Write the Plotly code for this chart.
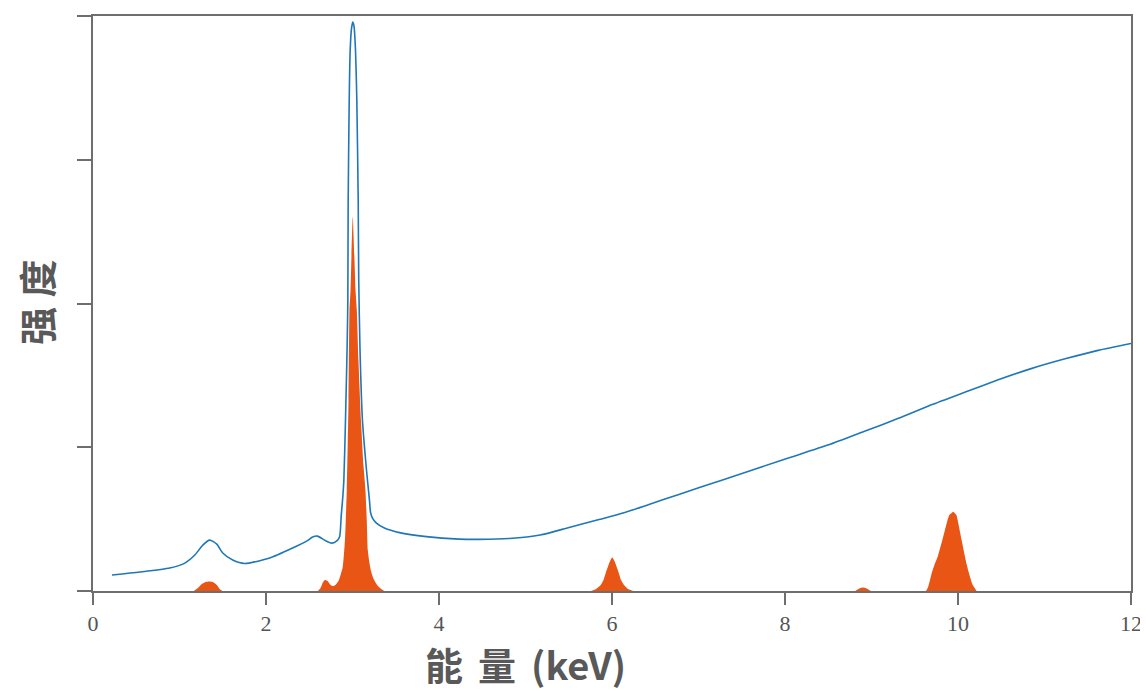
import plotly.graph_objects as go

# Blue spectrum (measured) : energy (keV) and intensity (arbitrary units)
blue_kev = [0.219, 0.542, 0.888, 1.062, 1.177, 1.269, 1.350, 1.431, 1.500, 1.615,
            1.754, 2.042, 2.308, 2.469, 2.538, 2.596, 2.677, 2.758, 2.815, 2.850,
            2.870, 2.885, 2.900, 2.919, 2.937, 2.946, 2.950, 2.962, 2.973, 2.988,
            3.003, 3.017, 3.035, 3.050, 3.066, 3.072, 3.087, 3.115, 3.162, 3.196,
            3.208, 3.231, 3.277, 3.369, 3.542, 3.854, 4.235, 4.465, 4.812, 5.169,
            5.504, 5.850, 6.127, 6.427, 6.773, 7.269, 7.996, 8.504, 8.919, 9.312,
            9.692, 10.085, 10.465, 10.846, 11.238, 11.619, 12.0]
blue_int = [0.111, 0.132, 0.160, 0.194, 0.250, 0.319, 0.354, 0.326, 0.264, 0.215,
            0.191, 0.229, 0.299, 0.347, 0.375, 0.382, 0.354, 0.333, 0.347, 0.375,
            0.528, 0.632, 0.771, 1.188, 1.674, 2.021, 2.715, 3.410, 3.757, 3.910,
            3.958, 3.931, 3.757, 3.410, 2.715, 2.160, 1.674, 1.188, 0.840, 0.632,
            0.549, 0.507, 0.472, 0.438, 0.406, 0.378, 0.361, 0.359, 0.365, 0.389,
            0.442, 0.497, 0.542, 0.602, 0.672, 0.771, 0.917, 1.017, 1.111, 1.201,
            1.295, 1.384, 1.469, 1.547, 1.615, 1.674, 1.722]

# Orange spectrum (filled peaks)
orange_kev = [1.165, 1.212, 1.258, 1.304, 1.344, 1.385, 1.431, 1.465, 1.500,
              2.596, 2.631, 2.660, 2.683, 2.712, 2.746, 2.769, 2.804, 2.838, 2.862,
              2.888, 2.913, 2.934, 2.954, 2.965, 2.977, 3.003, 3.035, 3.050, 3.069,
              3.098, 3.127, 3.150, 3.165, 3.177, 3.196, 3.216, 3.242, 3.273, 3.312, 3.369,
              5.752, 5.815, 5.870, 5.902, 5.931, 5.960, 5.983, 6.003, 6.023, 6.046,
              6.075, 6.104, 6.138, 6.185, 6.254,
              8.810, 8.838, 8.873, 8.900, 8.931, 8.965, 8.994,
              9.627, 9.658, 9.696, 9.727, 9.765, 9.819, 9.869, 9.900, 9.946, 9.981,
              10.004, 10.042, 10.081, 10.102, 10.127, 10.165, 10.215]
orange_int = [0.0, 0.021, 0.049, 0.0625, 0.066, 0.0625, 0.042, 0.014, 0.0,
              0.0, 0.021, 0.0625, 0.076, 0.069, 0.042, 0.035, 0.042, 0.069, 0.111,
              0.169, 0.354, 0.701, 1.326, 1.951, 2.090, 2.604, 2.090, 1.951, 1.604,
              1.188, 0.875, 0.701, 0.493, 0.285, 0.194, 0.134, 0.087, 0.053, 0.024, 0.0,
              0.0, 0.014, 0.042, 0.076, 0.132, 0.181, 0.215, 0.233, 0.215, 0.181,
              0.132, 0.076, 0.042, 0.014, 0.0,
              0.0, 0.010, 0.021, 0.024, 0.021, 0.010, 0.0,
              0.0, 0.035, 0.123, 0.181, 0.238, 0.354, 0.470, 0.528, 0.552, 0.528,
              0.470, 0.354, 0.238, 0.181, 0.123, 0.049, 0.0]

x_ticks = [0, 2, 4, 6, 8, 10, 12]
y_ticks = [0, 1, 2, 3, 4]
x_title = "能\u2004\u200a量\u2004\u200a(keV)"
y_title = "强\u2005度"

AXIS = "#6e6e6e"
fig = go.Figure()
fig.add_trace(go.Scatter(x=orange_kev, y=orange_int, mode="lines",
                         line=dict(color="#E85514", width=0, shape="spline", smoothing=0.5),
                         fill="tozeroy", fillcolor="#E85514", hoverinfo="skip"))
fig.add_trace(go.Scatter(x=blue_kev, y=blue_int, mode="lines",
                         line=dict(color="#1f77b8", width=1.6, shape="spline", smoothing=0.6)))

# page body has an 8px default margin: size the figure so the plot lands in place
fig.update_layout(
    width=1140, height=685,
    margin=dict(l=85, r=15, t=6, b=102),
    paper_bgcolor="white", plot_bgcolor="white",
    showlegend=False,
    xaxis=dict(range=[0, 12], tickvals=x_ticks, ticks="outside", ticklen=12,
               tickwidth=1.5, tickcolor=AXIS, showline=True, linecolor=AXIS,
               linewidth=1.6, mirror=True, showgrid=False, zeroline=False,
               tickfont=dict(family="Liberation Serif", size=22, color="#555555")),
    yaxis=dict(range=[0, 4.0], tickvals=y_ticks, ticks="outside", ticklen=14,
               tickwidth=1.5, tickcolor=AXIS, showline=True, linecolor=AXIS,
               linewidth=1.6, mirror=True, showgrid=False, zeroline=False,
               showticklabels=False),
    annotations=[
        dict(text="<b>" + x_title + "</b>", xref="paper", yref="paper",
             x=0.417, y=-0.1265, xanchor="center", yanchor="middle", showarrow=False,
             font=dict(family="Noto Sans CJK SC", size=38, color="#595959")),
        dict(text="<b>" + y_title + "</b>", xref="paper", yref="paper",
             x=-0.0548, y=0.503, xanchor="center", yanchor="middle", showarrow=False,
             textangle=-90,
             font=dict(family="Noto Sans CJK SC", size=38, color="#595959")),
    ],
)
fig.write_html("out.html")
